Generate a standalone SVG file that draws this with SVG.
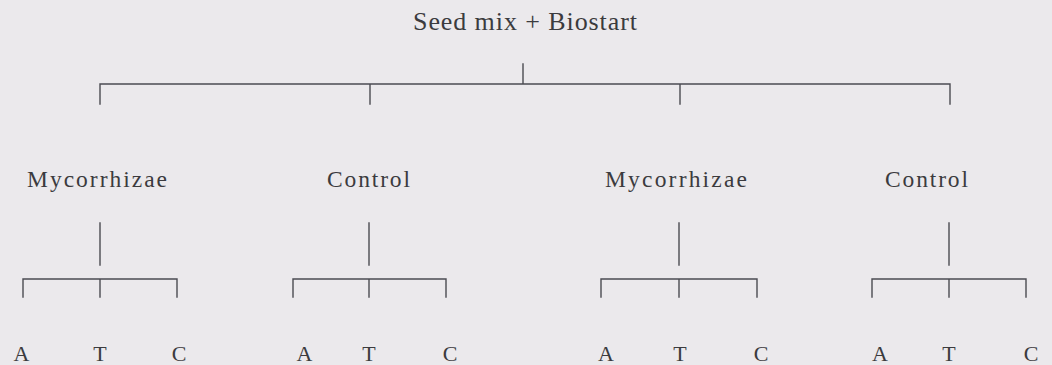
<svg xmlns="http://www.w3.org/2000/svg" width="1052" height="365" viewBox="0 0 1052 365">
<style>
.t{font-family:"Liberation Serif","Times New Roman",serif;fill:#3b3b3e}
.top{font-size:26px}
.mid{font-size:23.5px}
.leaf{font-size:22px;text-anchor:middle}
.ln{stroke:#4b4b52;stroke-width:1.4;fill:none;stroke-linecap:square}
</style>
<rect width="1052" height="365" fill="#ebe9ec"/>
<g id="connectors">
<path class="ln" d="M523 64V84M100 104V84H950V104M370 84V104M680 84V104"/>
<path class="ln" d="M100 223V265M23 297V279H177V297M100 279V297"/>
<path class="ln" d="M369 223V265M293 297V279H446V297M369 279V297"/>
<path class="ln" d="M679 223V265M601 297V279H757V297M679 279V297"/>
<path class="ln" d="M949 223V265M872 297V279H1026V297M949 279V297"/>
</g>
<g id="root"><text class="t top" x="413" y="30" textLength="224" lengthAdjust="spacing">Seed mix + Biostart</text></g>
<g id="myc1"><text class="t mid" x="27" y="187" textLength="140" lengthAdjust="spacing">Mycorrhizae</text></g>
<g id="ctl1"><text class="t mid" x="327" y="187" textLength="83" lengthAdjust="spacing">Control</text></g>
<g id="myc2"><text class="t mid" x="605" y="187" textLength="142" lengthAdjust="spacing">Mycorrhizae</text></g>
<g id="ctl2"><text class="t mid" x="885" y="187" textLength="83" lengthAdjust="spacing">Control</text></g>
<g id="leaves1"><text class="t leaf" x="21.5" y="361">A</text><text class="t leaf" x="100" y="361">T</text><text class="t leaf" x="179" y="361">C</text></g>
<g id="leaves2"><text class="t leaf" x="304.5" y="361">A</text><text class="t leaf" x="369" y="361">T</text><text class="t leaf" x="450" y="361">C</text></g>
<g id="leaves3"><text class="t leaf" x="606" y="361">A</text><text class="t leaf" x="680" y="361">T</text><text class="t leaf" x="761" y="361">C</text></g>
<g id="leaves4"><text class="t leaf" x="880" y="361">A</text><text class="t leaf" x="949" y="361">T</text><text class="t leaf" x="1031" y="361">C</text></g>
</svg>
